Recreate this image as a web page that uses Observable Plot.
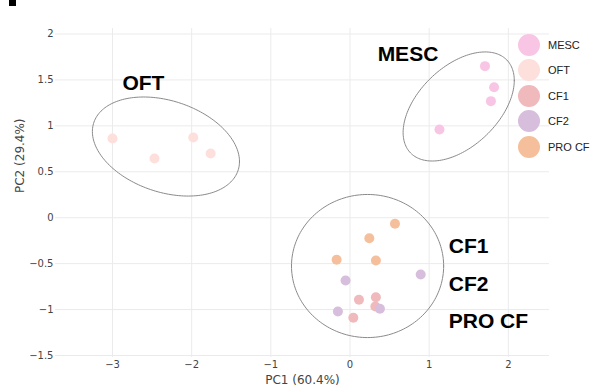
<!DOCTYPE html>
<html><head><meta charset="utf-8">
<script src="https://cdn.jsdelivr.net/npm/d3@7"></script>
<script src="https://cdn.jsdelivr.net/npm/@observablehq/plot@0.6"></script>
<style>
body{margin:0;background:#fff;}
#wrap{position:relative;width:592px;height:392px;overflow:hidden;background:#fff;}
#wrap svg{position:absolute;left:0;top:0;}
.legend{position:absolute;left:518px;top:32px;font-family:"Liberation Sans",Arial,sans-serif;font-size:11px;color:#222;}
.legend .row{display:flex;align-items:center;height:25.5px;}
.legend .sw{width:22px;height:22px;border-radius:50%;margin-right:8px;}
.panel{position:absolute;left:9px;top:0;width:7px;height:6px;background:#000;}
</style></head><body><div id="wrap"><div class="panel"></div></div>
<script>
// Groups and colours
const groups = ["MESC", "OFT", "CF1", "CF2", "PRO CF"];
const colors = ["#f8c6e4", "#fddfdb", "#f0b9bc", "#d7bedc", "#f6bf9b"];

// Sample points (PC1, PC2) and their group
const pointGroup = ["MESC","MESC","MESC","MESC",
  "OFT","OFT","OFT","OFT",
  "CF1","CF1","CF1","CF1",
  "CF2","CF2","CF2","CF2",
  "PRO CF","PRO CF","PRO CF","PRO CF"];
const pc1 = [1.705, 1.82, 1.78, 1.13,
  -3.0, -2.47, -1.98, -1.76,
  0.113, 0.327, 0.32, 0.042,
  0.893, -0.056, -0.153, 0.378,
  0.568, 0.244, -0.169, 0.327];
const pc2 = [1.650, 1.421, 1.269, 0.960,
  0.862, 0.645, 0.873, 0.699,
  -0.894, -0.866, -0.967, -1.090,
  -0.619, -0.684, -1.021, -0.992,
  -0.066, -0.223, -0.458, -0.466];

// Axis ticks
const xTicks = [-3, -2, -1, 0, 1, 2];
const yTicks = [-1.5, -1, -0.5, 0, 0.5, 1, 1.5, 2];

// Cluster ellipses (data units): centre, x half-extent, y components
const ellipseName = ["OFT", "MESC", "CF"];
const ellipseCx = [-2.325, 1.373, 0.222];
const ellipseCy = [0.775, 1.211, -0.526];
const ellipseAx = [0.929, 0.702, 0.961];
const ellipseAyCos = [-0.163, 0.283, 0];
const ellipseAySin = [0.514, 0.522, 0.779];

// Cluster annotations
const labelText = ["OFT", "MESC", "CF1", "CF2", "PRO CF"];
const labelX = [-2.875, 0.349, 1.247, 1.247, 1.247];
const labelY = [1.467, 1.783, -0.308, -0.727, -1.130];

const points = pc1.map((v, i) => ({x: v, y: pc2[i], g: pointGroup[i]}));
const ellipsePts = [];
ellipseName.forEach((n, k) => {
  const N = 180;
  for (let j = 0; j <= N; j++) {
    const t = 2 * Math.PI * j / N;
    ellipsePts.push({
      name: n,
      x: ellipseCx[k] + ellipseAx[k] * Math.cos(t),
      y: ellipseCy[k] + ellipseAyCos[k] * Math.cos(t) + ellipseAySin[k] * Math.sin(t)
    });
  }
});
const labels = labelText.map((t, i) => ({t, x: labelX[i], y: labelY[i]}));
const fmt = d3.format("");

const chart = Plot.plot({
  width: 592, height: 392,
  marginLeft: 55, marginRight: 43, marginTop: 28, marginBottom: 35,
  style: {fontFamily: "DejaVu Sans, sans-serif", fontSize: "10px", color: "#444", background: "transparent"},
  x: {domain: [-3.72, 2.52]},
  y: {domain: [-1.522, 2.06]},
  color: {domain: groups, range: colors},
  marks: [
    Plot.gridX(xTicks, {stroke: "#ebebeb", strokeOpacity: 1}),
    Plot.gridY(yTicks, {stroke: "#ebebeb", strokeOpacity: 1}),
    Plot.axisX(xTicks, {tickSize: 0, tickPadding: 3, tickFormat: fmt, label: null}),
    Plot.axisY(yTicks, {tickSize: 0, tickPadding: 2, tickFormat: fmt, label: null}),
    Plot.line(ellipsePts, {x: "x", y: "y", z: "name", stroke: "#8a8a8a", strokeWidth: 1}),
    Plot.dot(points, {x: "x", y: "y", fill: "g", r: 5}),
    Plot.text(labels, {x: "x", y: "y", text: "t", textAnchor: "start", fontSize: 21, fontWeight: "bold", fontFamily: "Liberation Sans, Arial, sans-serif", fill: "#000"}),
    Plot.text(["PC1 (60.4%)"], {text: d => d, frameAnchor: "bottom", dy: 26, fontSize: 12, fill: "#444"}),
    Plot.text(["PC2 (29.4%)"], {text: d => d, frameAnchor: "left", dx: -35, rotate: -90, fontSize: 12, fill: "#444"})
  ]
});
const wrap = document.getElementById("wrap");
wrap.appendChild(chart);

const legend = document.createElement("div");
legend.className = "legend";
groups.forEach((g, i) => {
  const row = document.createElement("div");
  row.className = "row";
  const sw = document.createElement("div");
  sw.className = "sw";
  sw.style.background = colors[i];
  const lab = document.createElement("span");
  lab.textContent = g;
  row.appendChild(sw); row.appendChild(lab);
  legend.appendChild(row);
});
wrap.appendChild(legend);
</script>
</body></html>
